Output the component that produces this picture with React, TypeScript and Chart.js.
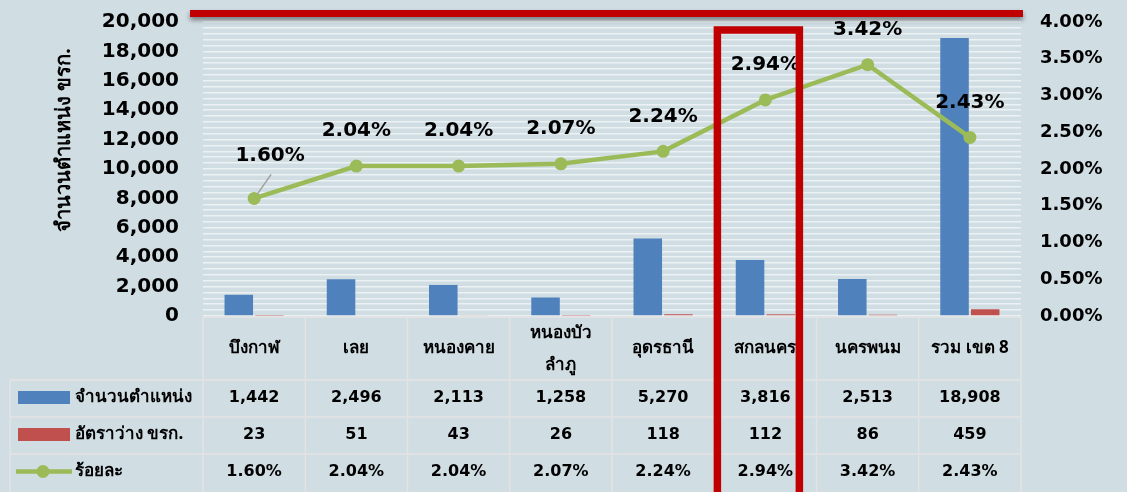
import React, { useEffect, useRef } from "react";
import { Chart, registerables } from "chart.js";

Chart.register(...registerables);

const categories: string[] = ["บึงกาฬ", "เลย", "หนองคาย", "หนองบัว\nลำภู", "อุดรธานี", "สกลนคร", "นครพนม", "รวม เขต 8"];
const positions: number[] = [1442, 2496, 2113, 1258, 5270, 3816, 2513, 18908];
const vacancies: number[] = [23, 51, 43, 26, 118, 112, 86, 459];
const percents: number[] = [1.6, 2.04, 2.04, 2.07, 2.24, 2.94, 3.42, 2.43];
const seriesNames: string[] = ["จำนวนตำแหน่ง", "อัตราว่าง ขรก.", "ร้อยละ"];
const leftTitle = "จำนวนตำแหน่ง ขรก.";
const highlightIndex = 5;

const BG = "#d0dde3";
const BLUE = "#4f81bd";
const RED = "#c0504d";
const GREEN = "#9bbb59";
const FONT = "'DejaVu Sans', 'Noto Sans', sans-serif";
const THAI = "'Noto Sans', 'DejaVu Sans', sans-serif";

const fmtInt = (v: number) => v.toLocaleString("en-US");
const fmtPct = (v: number) => v.toFixed(2) + "%";

const overlayPlugin = {
  id: "overlay",
  afterDatasetsDraw(chart: any) {
    const ctx = chart.ctx;
    const meta = chart.getDatasetMeta(2);
    ctx.save();
    ctx.fillStyle = "#000";
    ctx.font = `bold 20px ${FONT}`;
    ctx.textAlign = "center";
    ctx.textBaseline = "middle";
    meta.data.forEach((pt: any, i: number) => {
      const txt = fmtPct(percents[i]);
      if (i === 0) {
        ctx.strokeStyle = "#a0a0a0";
        ctx.lineWidth = 1.5;
        ctx.beginPath();
        ctx.moveTo(pt.x + 3, pt.y - 4);
        ctx.lineTo(pt.x + 17, pt.y - 24);
        ctx.stroke();
        ctx.fillText(txt, pt.x + 16, pt.y - 43);
      } else {
        ctx.fillText(txt, pt.x, pt.y - 35);
      }
    });
    ctx.restore();
  },
  afterDraw(chart: any) {
    const ctx = chart.ctx;
    const ca = chart.chartArea;
    const xs = chart.scales.x;
    const n = categories.length;
    const colW = (ca.right - ca.left) / n;
    const headerBottom = ca.bottom + 64;
    const rowH = 37;
    const H = chart.height;
    ctx.save();
    // table borders
    ctx.strokeStyle = "#e4e2e2";
    ctx.lineWidth = 1.5;
    ctx.beginPath();
    ctx.moveTo(ca.left, ca.bottom + 1);
    ctx.lineTo(ca.right, ca.bottom + 1);
    for (let r = 0; r < 3; r++) {
      const y = headerBottom + r * rowH;
      ctx.moveTo(10, y);
      ctx.lineTo(ca.right, y);
    }
    ctx.moveTo(10, headerBottom);
    ctx.lineTo(10, H);
    for (let i = 0; i <= n; i++) {
      const x = ca.left + i * colW;
      ctx.moveTo(x, ca.bottom + 1);
      ctx.lineTo(x, H);
    }
    ctx.stroke();

    // header labels
    ctx.fillStyle = "#000";
    ctx.textAlign = "center";
    ctx.textBaseline = "middle";
    ctx.font = `bold 17px ${THAI}`;
    categories.forEach((c, i) => {
      const x = xs.getPixelForValue(i);
      const lines = c.split("\n");
      const cy = (ca.bottom + headerBottom) / 2;
      if (lines.length === 1) ctx.fillText(lines[0], x, cy);
      else {
        ctx.fillText(lines[0], x, cy - 15);
        ctx.fillText(lines[1], x, cy + 17);
      }
    });

    // values
    const rows = [positions.map(fmtInt), vacancies.map(fmtInt), percents.map(fmtPct)];
    ctx.font = `bold 16px ${FONT}`;
    rows.forEach((row, r) => {
      const cy = headerBottom + r * rowH + rowH / 2 - 1;
      row.forEach((t, i) => ctx.fillText(t, xs.getPixelForValue(i), cy));
    });

    // legend column
    ctx.textAlign = "left";
    ctx.font = `bold 17px ${THAI}`;
    const legY = [0, 1, 2].map((r) => headerBottom + r * rowH + rowH / 2 - 1);
    ctx.fillStyle = BLUE;
    ctx.fillRect(18, legY[0] - 6.5, 52, 13);
    ctx.fillStyle = RED;
    ctx.fillRect(18, legY[1] - 6.5, 52, 13);
    ctx.strokeStyle = GREEN;
    ctx.lineWidth = 4.5;
    ctx.beginPath();
    ctx.moveTo(16, legY[2]);
    ctx.lineTo(72, legY[2]);
    ctx.stroke();
    ctx.fillStyle = GREEN;
    ctx.beginPath();
    ctx.arc(43, legY[2], 6.5, 0, Math.PI * 2);
    ctx.fill();
    ctx.fillStyle = "#000";
    seriesNames.forEach((s, r) => ctx.fillText(s, 75, legY[r]));

    // left axis title
    ctx.save();
    ctx.translate(64, 140);
    ctx.rotate(-Math.PI / 2);
    ctx.textAlign = "center";
    ctx.font = `bold 20px ${THAI}`;
    ctx.fillText(leftTitle, 0, 0);
    ctx.restore();

    // red top line with shadow
    ctx.save();
    ctx.shadowColor = "rgba(0,0,0,0.45)";
    ctx.shadowBlur = 5;
    ctx.shadowOffsetY = 3;
    ctx.strokeStyle = "#c00000";
    ctx.lineWidth = 7;
    ctx.beginPath();
    ctx.moveTo(ca.left - 13, ca.top - 8.5);
    ctx.lineTo(ca.right + 2, ca.top - 8.5);
    ctx.stroke();
    ctx.restore();

    // highlight rectangle
    const hx = xs.getPixelForValue(highlightIndex);
    ctx.strokeStyle = "#c00000";
    ctx.lineWidth = 7.5;
    ctx.beginPath();
    ctx.moveTo(hx - 48, H + 10);
    ctx.lineTo(hx - 48, ca.top + 8);
    ctx.lineTo(hx + 34, ca.top + 8);
    ctx.lineTo(hx + 34, H + 10);
    ctx.stroke();
    ctx.restore();
  },
};

export default function App() {
  const ref = useRef<HTMLCanvasElement>(null);
  useEffect(() => {
    if (!ref.current) return;
    const chart = new Chart(ref.current, {
      type: "bar",
      data: {
        labels: categories,
        datasets: [
          {
            type: "bar",
            label: seriesNames[0],
            data: positions,
            backgroundColor: BLUE,
            yAxisID: "y",
            order: 2,
            categoryPercentage: 0.6,
            barPercentage: 0.93,
          },
          {
            type: "bar",
            label: seriesNames[1],
            data: vacancies,
            backgroundColor: RED,
            yAxisID: "y",
            order: 2,
            categoryPercentage: 0.6,
            barPercentage: 0.93,
          },
          {
            type: "line",
            label: seriesNames[2],
            data: percents,
            borderColor: GREEN,
            backgroundColor: GREEN,
            borderWidth: 4.5,
            pointRadius: 6.5,
            pointBackgroundColor: GREEN,
            pointBorderWidth: 0,
            yAxisID: "y1",
            order: 0,
          } as any,
        ],
      },
      options: {
        responsive: false,
        animation: false,
        devicePixelRatio: 1,
        layout: { padding: { top: 22, bottom: 176, left: 0, right: 0 } },
        plugins: { legend: { display: false }, tooltip: { enabled: false } },
        scales: {
          x: { display: false, offset: true },
          y: {
            position: "left",
            min: 0,
            max: 20000,
            afterFit: (s: any) => { s.width = 203; },
            ticks: {
              stepSize: 400,
              autoSkip: false,
              padding: 0,
              color: "#000",
              font: { family: FONT, size: 20, weight: "bold" },
              callback: (v: any) => (Number(v) % 2000 === 0 ? fmtInt(Number(v)) : ""),
            },
            grid: {
              color: "rgba(255,255,255,0.6)",
              lineWidth: 1.5,
              drawTicks: true,
              tickLength: 24,
              tickColor: "rgba(0,0,0,0)",
            },
            border: { display: false },
          },
          y1: {
            position: "right",
            min: 0,
            max: 4,
            afterFit: (s: any) => { s.width = 106; },
            ticks: {
              stepSize: 0.5,
              padding: 0,
              color: "#000",
              font: { family: FONT, size: 18, weight: "bold" },
              callback: (v: any) => fmtPct(Number(v)),
            },
            grid: {
              display: true,
              drawOnChartArea: false,
              drawTicks: true,
              tickLength: 19,
              tickColor: "rgba(0,0,0,0)",
            },
            border: { display: false },
          },
        },
      },
      plugins: [overlayPlugin],
    });
    return () => chart.destroy();
  }, []);
  return (
    <div style={{ position: "absolute", left: 0, top: 0, width: 1127, height: 492, background: BG, overflow: "hidden" }}>
      <canvas ref={ref} width={1127} height={492} style={{ display: "block" }} />
    </div>
  );
}
